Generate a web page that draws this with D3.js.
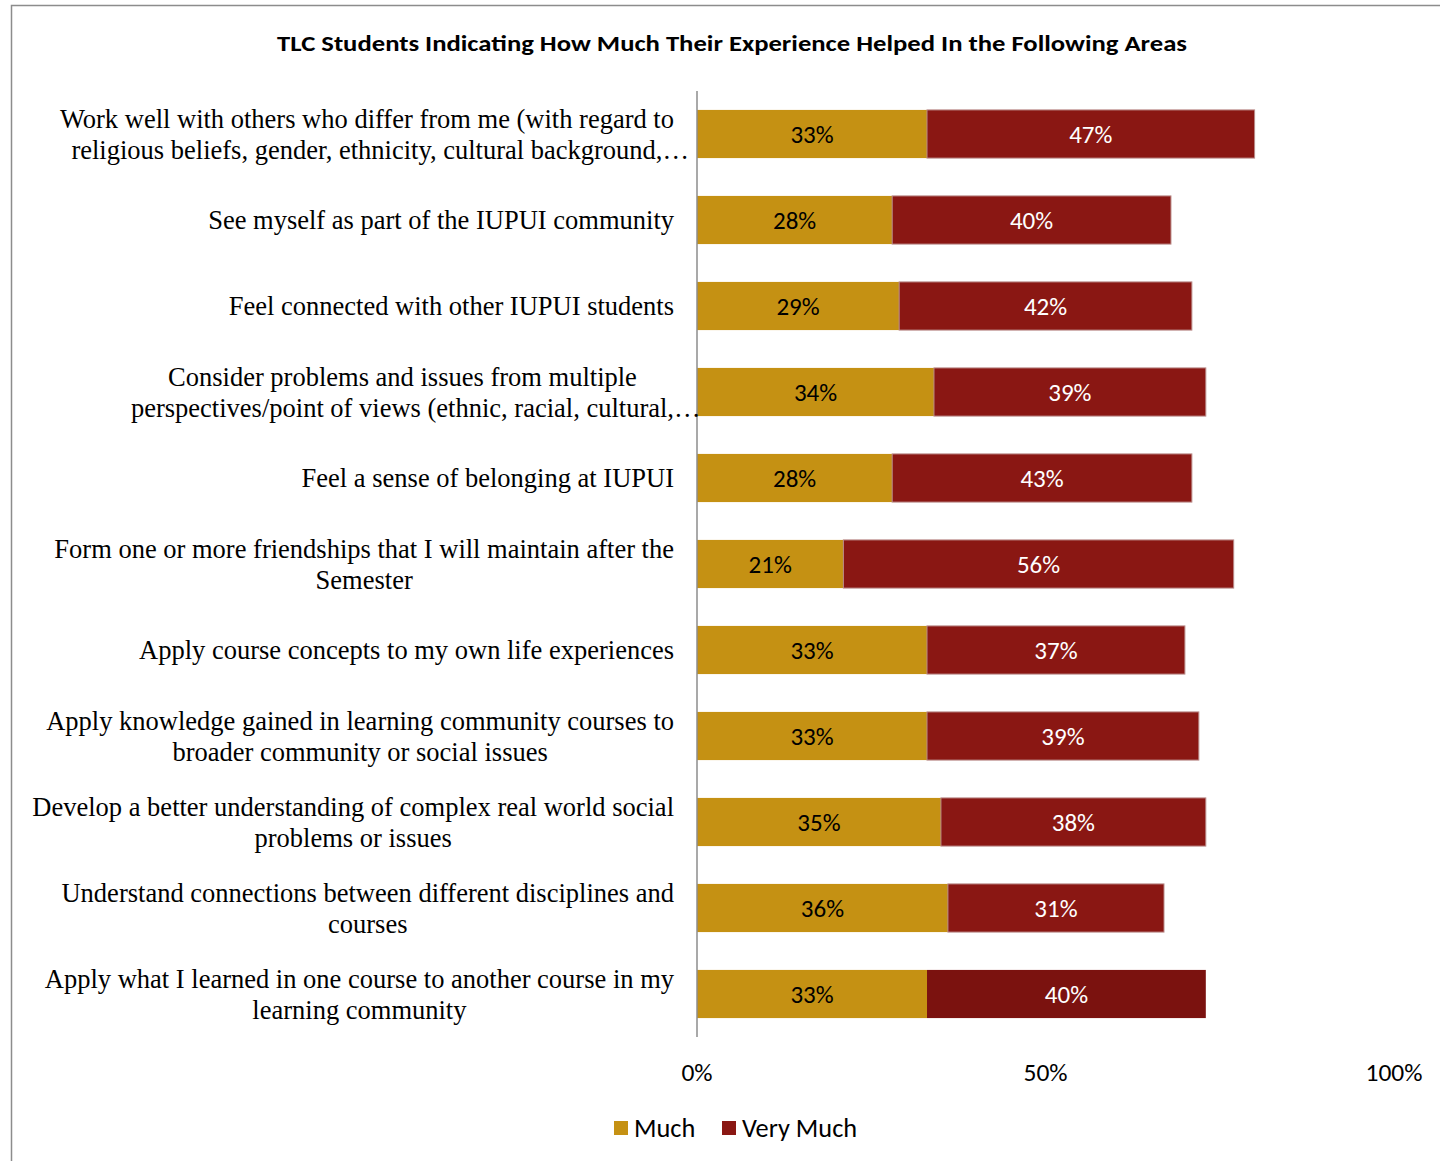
<!DOCTYPE html>
<html><head><meta charset="utf-8">
<script src="https://cdn.jsdelivr.net/npm/d3@7"></script>
<style>html,body{margin:0;padding:0;background:#fff;}svg{display:block;}</style>
</head><body>
<svg id="chart" width="1440" height="1161"></svg>
<script>
const title = "TLC Students Indicating How Much Their Experience Helped In the Following Areas";
const categories = [
  ["Work well with others who differ from me (with regard to", "religious beliefs, gender, ethnicity, cultural background,\u2026"],
  ["See myself as part of the IUPUI community"],
  ["Feel connected with other IUPUI students"],
  ["Consider problems and issues from multiple", "perspectives/point of views (ethnic, racial, cultural,\u2026"],
  ["Feel a sense of belonging at IUPUI"],
  ["Form one or more friendships that I will maintain after the", "Semester"],
  ["Apply course concepts to my own life experiences"],
  ["Apply knowledge gained in learning community courses to", "broader community or social issues"],
  ["Develop a better understanding of complex real world social", "problems or issues"],
  ["Understand connections between different disciplines and", "courses"],
  ["Apply what I learned in one course to another course in my", "learning community"]
];
const much     = [33, 28, 29, 34, 28, 21, 33, 33, 35, 36, 33];
const veryMuch = [47, 40, 42, 39, 43, 56, 37, 39, 38, 31, 40];
const seriesNames = ["Much", "Very Much"];
const tickValues = [0, 50, 100];

const colors = {"Much": "#C59113", "Very Much": "#8A1713"};
const sansFont = "Carlito, Lato, 'Open Sans', sans-serif";
const serifFont = "'Liberation Serif', 'Times New Roman', serif";
const svg = d3.select("#chart");

// chart border
svg.append("rect").attr("x", 11.5).attr("y", 5.5).attr("width", 1440).attr("height", 1200)
  .attr("fill", "none").attr("stroke", "#8c8c8c").attr("stroke-width", 1.5);

svg.append("text").attr("x", 732).attr("y", 51).attr("text-anchor", "middle")
  .attr("font-family", sansFont).attr("font-weight", "bold")
  .attr("font-size", 22).attr("fill", "#000")
  .attr("textLength", 910).attr("lengthAdjust", "spacingAndGlyphs")
  .text(title);

const x = d3.scaleLinear().domain([0, 100]).range([697, 1394]);
const idx = d3.range(categories.length);
const y = d3.scaleBand().domain(idx).range([91, 1037]).paddingInner(0.44).paddingOuter(0.22);

const rows = idx.map(i => ({i, much: much[i], very: veryMuch[i]}));
const stack = d3.stack().keys(["much", "very"])(rows);

const g = svg.append("g");
stack.forEach((layer, li) => {
  const name = seriesNames[li];
  const isLastDark = d => li === 1 && d.data.i === categories.length - 1;
  g.selectAll(null).data(layer).join("rect")
    .attr("x", d => x(d[0]))
    .attr("y", d => y(d.data.i))
    .attr("width", d => x(d[1]) - x(d[0]))
    .attr("height", y.bandwidth())
    .attr("fill", d => isLastDark(d) ? "#7B120F" : colors[name])
    .attr("stroke", d => (li === 1 && !isLastDark(d)) ? "#b98a88" : "none")
    .attr("stroke-width", 1);
  g.selectAll(null).data(layer).join("text")
    .attr("x", d => (x(d[0]) + x(d[1])) / 2)
    .attr("y", d => y(d.data.i) + y.bandwidth() / 2)
    .attr("dy", "0.35em")
    .attr("text-anchor", "middle")
    .attr("font-family", sansFont)
    .attr("font-size", 25)
    .attr("fill", li === 0 ? "#000" : "#fff")
    .text(d => (d[1] - d[0]) + "%");
});

// category axis line
svg.append("line").attr("x1", 697).attr("x2", 697).attr("y1", 91).attr("y2", 1037)
  .attr("stroke", "#8c8c8c").attr("stroke-width", 1.5);

// category labels
const lab = svg.append("g");
const measure = lab.append("text").attr("font-family", serifFont).attr("font-size", 26.5).text("\u2026");
const ellW = measure.node().getComputedTextLength();
measure.remove();
categories.forEach((lines, i) => {
  const cy = y(i) + y.bandwidth() / 2;
  const lineH = 31;
  const t = lab.append("text")
    .attr("font-family", serifFont)
    .attr("font-size", 26.5).attr("fill", "#000").attr("text-anchor", "middle");
  const spans = lines.map((ln, k) => t.append("tspan")
    .attr("y", cy + (k - (lines.length - 1) / 2) * lineH)
    .attr("dy", "0.35em").text(ln));
  const effW = spans.map((s, k) => s.node().getComputedTextLength() - (lines[k].endsWith("\u2026") ? ellW : 0));
  const cx = 674 - d3.max(effW) / 2;
  spans.forEach((s, k) => s.attr("x", cx + (lines[k].endsWith("\u2026") ? ellW / 2 : 0)));
});

// x tick labels
svg.append("g").selectAll("text").data(tickValues).join("text")
  .attr("x", d => x(d)).attr("y", 1072).attr("dy", "0.35em")
  .attr("text-anchor", "middle")
  .attr("font-family", sansFont)
  .attr("font-size", 25.5).attr("fill", "#000")
  .text(d => d + "%");

// legend
const leg = svg.append("g");
const legX = [614, 722];
seriesNames.forEach((n, k) => {
  leg.append("rect").attr("x", legX[k]).attr("y", 1121).attr("width", 14).attr("height", 14).attr("fill", colors[n]);
  leg.append("text").attr("x", legX[k] + 20).attr("y", 1128).attr("dy", "0.35em")
    .attr("font-family", sansFont).attr("font-size", 26.3).text(n);
});
</script>
</body></html>
